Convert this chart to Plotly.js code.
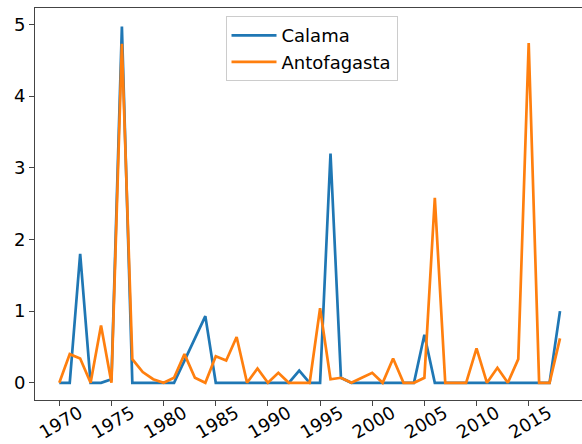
<!DOCTYPE html>
<html>
<head>
<meta charset="utf-8">
<script src="https://cdn.plot.ly/plotly-3.0.1.min.js"></script>
<style>html,body{margin:0;padding:0;background:#fff;}#chart{width:582px;height:444px;}</style>
</head>
<body>
<div id="chart"></div>
<script>
const years = [1970,1971,1972,1973,1974,1975,1976,1977,1978,1979,1980,1981,1982,1983,1984,1985,1986,1987,1988,1989,1990,1991,1992,1993,1994,1995,1996,1997,1998,1999,2000,2001,2002,2003,2004,2005,2006,2007,2008,2009,2010,2011,2012,2013,2014,2015,2016,2017,2018];
const calama = [0,0,1.8,0,0,0.05,4.97,0,0,0,0,0,0.31,0.62,0.93,0,0,0,0,0,0,0,0,0.17,0,0,3.2,0.07,0,0,0,0,0,0,0,0.67,0,0,0,0,0,0,0,0,0,0,0,0,1.0];
const antofagasta = [0,0.4,0.34,0,0.8,0,4.73,0.33,0.15,0.05,0,0.07,0.4,0.07,0,0.37,0.31,0.64,0,0.2,0,0.14,0,0,0,1.04,0.05,0.07,0,0.07,0.14,0,0.34,0,0,0.07,2.58,0,0,0,0.48,0,0.21,0,0.33,4.74,0,0,0.62];
const tickYears = [1970,1975,1980,1985,1990,1995,2000,2005,2010,2015];

const traces = [
  {x: years, y: calama, name: 'Calama', type: 'scatter', mode: 'lines', line: {color: '#1f77b4', width: 2.7}},
  {x: years, y: antofagasta, name: 'Antofagasta', type: 'scatter', mode: 'lines', line: {color: '#ff7f0e', width: 2.7}}
];
const layout = {
  width: 582, height: 444,
  margin: {l: 35, r: 0, t: 8, b: 44, pad: 0},
  paper_bgcolor: '#fff', plot_bgcolor: '#fff',
  font: {family: 'DejaVu Sans', size: 18, color: '#000'},
  showlegend: true,
  legend: {x: 0.5055, xanchor: 'center', y: 0.979, yanchor: 'top', itemwidth: 45, bgcolor: 'rgba(255,255,255,0.8)', bordercolor: '#cccccc', borderwidth: 1, font: {family: 'DejaVu Sans', size: 18, color: '#000'}, tracegroupgap: 0},
  xaxis: {range: [1967.67, 2020.11], tickvals: tickYears, ticktext: tickYears.map(String), tickangle: -30, ticklabelshift: 20, ticklabelstandoff: -10, ticks: 'outside', ticklen: 5, tickwidth: 1, tickcolor: '#444', showline: true, linecolor: '#444', linewidth: 1, mirror: true, showgrid: false, zeroline: false, tickfont: {size: 18}},
  yaxis: {range: [-0.24, 5.23], tickvals: [0,1,2,3,4,5], ticks: 'outside', ticklen: 5, tickwidth: 1, tickcolor: '#444', showline: true, linecolor: '#444', linewidth: 1, showgrid: false, zeroline: false, tickfont: {size: 18}}
};
Plotly.newPlot('chart', traces, layout, {displayModeBar: false, staticPlot: true});
</script>
</body>
</html>
